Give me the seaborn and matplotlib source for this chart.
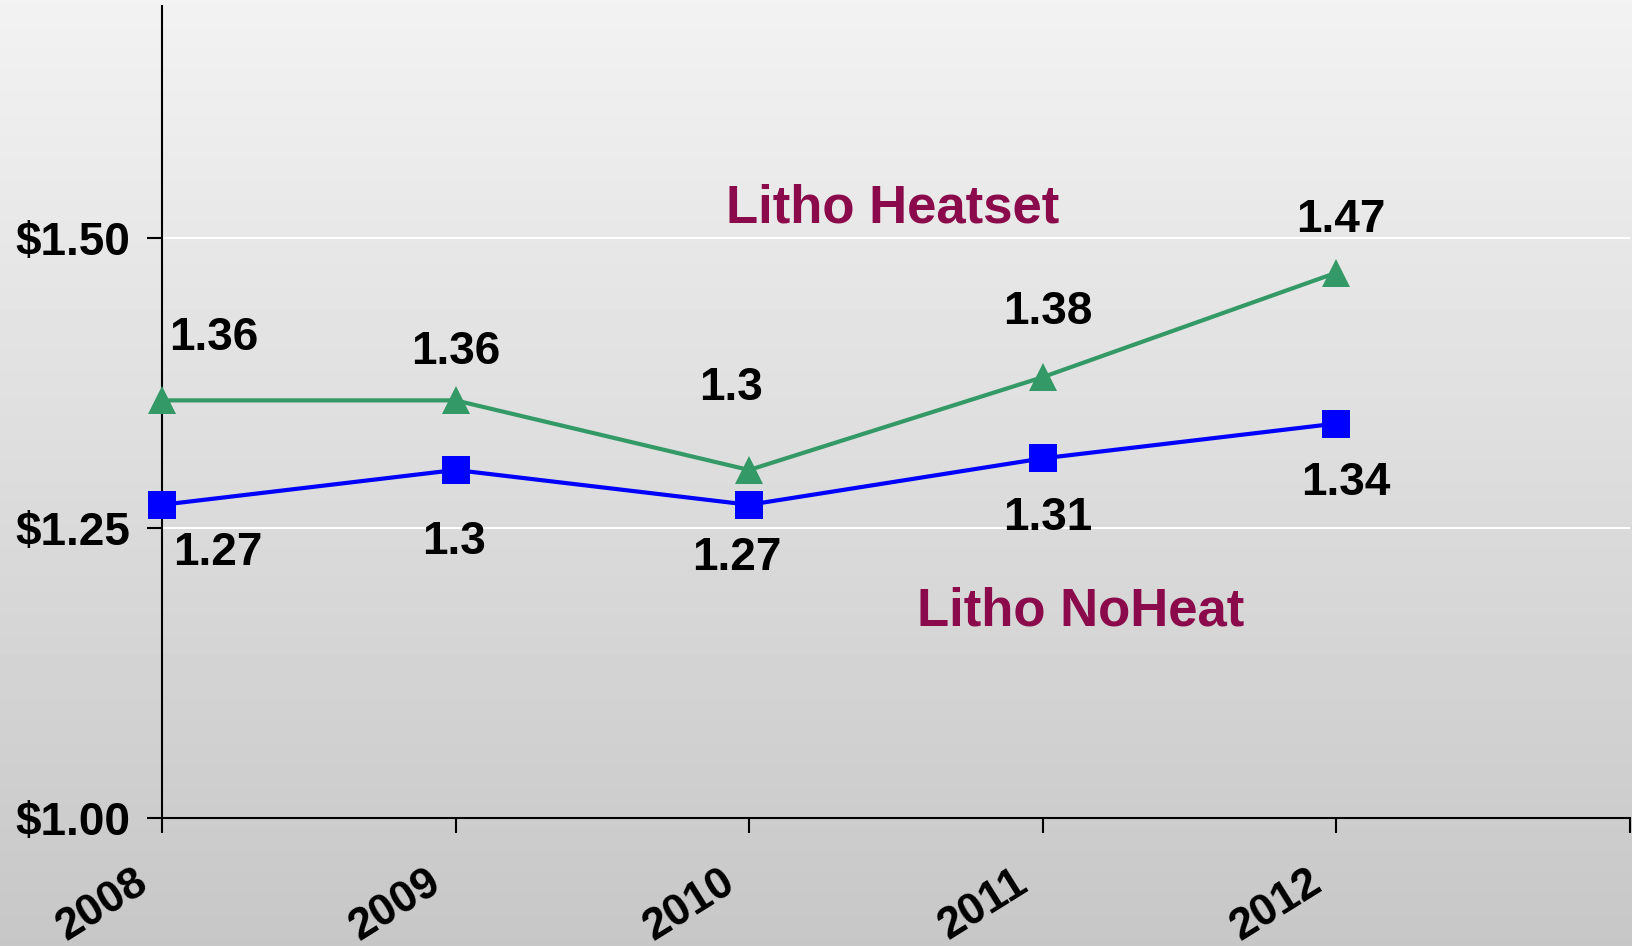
import numpy as np
import pandas as pd
import matplotlib
matplotlib.use("Agg")
import matplotlib.pyplot as plt
import matplotlib.transforms as mtransforms
import seaborn as sns

# dados do gráfico
anos = [2008, 2009, 2010, 2011, 2012]
heatset = [1.36, 1.36, 1.30, 1.38, 1.47]
noheat = [1.27, 1.30, 1.27, 1.31, 1.34]
rotulos_x = ["2008", "2009", "2010", "2011", "2012", ""]
ticks_y = [1.00, 1.25, 1.50]

# deslocamento dos rótulos de dados (em pontos)
desloc_heat = [(37, 45), (0, 35), (-13, 59), (4, 47), (3, 38)]
desloc_noheat = [(40, -35), (-1, -52), (-9, -38), (4, -43), (7, -43)]

df = pd.DataFrame({"ano": anos * 2,
                   "valor": heatset + noheat,
                   "serie": ["Litho Heatset"] * 5 + ["Litho NoHeat"] * 5})

sns.set_theme(style="white")
plt.rcParams["font.family"] = ["Liberation Sans", "DejaVu Sans"]
plt.rcParams["font.weight"] = "bold"
plt.rcParams["text.color"] = "black"
plt.rcParams["xtick.color"] = "black"
plt.rcParams["ytick.color"] = "black"

fig = plt.figure(figsize=(16.33, 9.46), dpi=100)

# fundo em degradê cinza
bg = fig.add_axes([0, 0, 1, 1], zorder=-10)
grad = np.linspace(0.95, 0.78, 256).reshape(-1, 1)
bg.imshow(grad, aspect="auto", cmap="gray", vmin=0, vmax=1, extent=[0, 1, 0, 1])
bg.axis("off")

ax = fig.add_axes([0.0992, 0.1353, 0.8988, 0.8584])
ax.patch.set_alpha(0)

cores = {"Litho Heatset": "#339966", "Litho NoHeat": "#0000ff"}
marcadores = {"Litho Heatset": "^", "Litho NoHeat": "s"}
sns.lineplot(data=df, x="ano", y="valor", hue="serie", style="serie",
             palette=cores, markers=marcadores, dashes=False,
             linewidth=3, markersize=20, markeredgewidth=0,
             legend=False, ax=ax, zorder=5, clip_on=False)

# rótulos de dados
for x, y, d in zip(anos, heatset, desloc_heat):
    ax.annotate(f"{y:g}", (x, y), xytext=d, textcoords="offset points",
                ha="center", va="center", fontsize=33, fontweight="bold")
for x, y, d in zip(anos, noheat, desloc_noheat):
    ax.annotate(f"{y:g}", (x, y), xytext=d, textcoords="offset points",
                ha="center", va="center", fontsize=33, fontweight="bold")

ax.text(2010.49, 1.525, "Litho Heatset", color="#8b0a4b", fontsize=38,
        fontweight="bold", ha="center", va="center")
ax.text(2011.13, 1.178, "Litho NoHeat", color="#8b0a4b", fontsize=38,
        fontweight="bold", ha="center", va="center")

ax.set_xlim(2008, 2013)
ax.set_ylim(1.0, 1.70)
ax.set_xticks(range(2008, 2014))
ax.set_xticklabels(rotulos_x, rotation=32, ha="right", va="center",
                   rotation_mode="anchor", fontsize=32, fontweight="bold")
ax.set_yticks(ticks_y)
ax.set_yticklabels([f"${v:.2f}" for v in ticks_y], fontsize=33, fontweight="bold")
ax.tick_params(axis="both", direction="out", length=11, width=1.5, color="black",
               left=True, bottom=True)
ax.tick_params(axis="y", pad=12)
ax.tick_params(axis="x", pad=33)
desloc = mtransforms.ScaledTranslation(-13 / 72, 0, fig.dpi_scale_trans)
for lbl in ax.get_xticklabels():
    lbl.set_transform(lbl.get_transform() + desloc)
ax.yaxis.grid(True, color="white", linewidth=1.5)
ax.set_axisbelow(True)
for lado in ["top", "right"]:
    ax.spines[lado].set_visible(False)
for lado in ["left", "bottom"]:
    ax.spines[lado].set_color("black")
    ax.spines[lado].set_linewidth(1.5)
ax.set_xlabel("")
ax.set_ylabel("")

fig.savefig("out.png", dpi=100)
